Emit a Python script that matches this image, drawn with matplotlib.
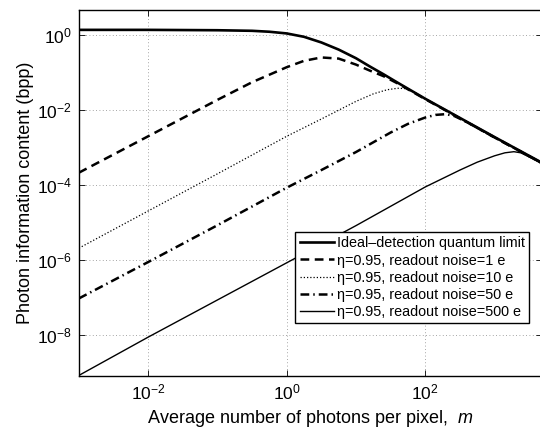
import matplotlib
matplotlib.use('Agg')
import matplotlib.pyplot as plt
import numpy as np

plt.rcParams['font.family'] = ['Liberation Sans', 'DejaVu Sans']
plt.rcParams['mathtext.fontset'] = 'custom'
plt.rcParams['mathtext.rm'] = 'Liberation Sans'
plt.rcParams['mathtext.it'] = 'Liberation Sans:italic'

# values, as log10(m) and log10(bpp)
ideal_lm = [-3.0, -2.0, -1.0, -0.5, -0.25, 0.0, 0.25, 0.5, 0.75, 1.0, 1.2, 1.4, 1.6, 2.0, 2.5, 3.0, 3.68]
ideal_ly = [0.135, 0.135, 0.125, 0.11, 0.085, 0.04, -0.05, -0.20, -0.39, -0.62, -0.84, -1.05, -1.27, -1.70, -2.21, -2.72, -3.40]

n1_lm = [-3.0, -2.0, -1.0, -0.5, 0.0, 0.25, 0.5, 0.75, 1.0, 1.2, 1.4, 1.6, 2.0, 2.5, 3.0, 3.68]
n1_ly = [-3.67, -2.70, -1.73, -1.26, -0.86, -0.69, -0.60, -0.63, -0.79, -0.95, -1.10, -1.29, -1.71, -2.22, -2.73, -3.41]

n10_lm = [-3.0, -2.0, -1.0, 0.0, 0.5, 1.0, 1.25, 1.45, 1.6, 1.72, 1.85, 2.0, 2.5, 3.0, 3.68]
n10_ly = [-5.68, -4.69, -3.70, -2.70, -2.24, -1.77, -1.57, -1.46, -1.42, -1.43, -1.53, -1.71, -2.22, -2.73, -3.41]

n50_lm = [-3.0, -2.0, -1.0, 0.0, 0.5, 1.0, 1.5, 1.75, 2.0, 2.15, 2.3, 2.42, 2.6, 3.0, 3.68]
n50_ly = [-7.02, -6.05, -5.07, -4.07, -3.60, -3.12, -2.60, -2.37, -2.20, -2.13, -2.11, -2.16, -2.32, -2.73, -3.41]

n500_lm = [-3.0, -2.0, -1.0, 0.0, 1.0, 2.0, 2.5, 2.75, 3.0, 3.15, 3.28, 3.38, 3.5, 3.68]
n500_ly = [-9.07, -8.05, -7.06, -6.07, -5.08, -4.05, -3.60, -3.39, -3.22, -3.14, -3.11, -3.14, -3.25, -3.42]

labels = ['Ideal\u2013detection quantum limit',
          '\u03b7=0.95, readout noise=1 e',
          '\u03b7=0.95, readout noise=10 e',
          '\u03b7=0.95, readout noise=50 e',
          '\u03b7=0.95, readout noise=500 e']

fig = plt.figure(figsize=(5.4, 4.3), dpi=100)
ax = fig.add_axes([0.146, 0.126, 0.857, 0.851])

def p(lm, ly):
    return 10.0**np.array(lm), 10.0**np.array(ly)

x, y = p(ideal_lm, ideal_ly)
ax.plot(x, y, color='black', lw=1.9, ls='-', label=labels[0])
x, y = p(n1_lm, n1_ly)
ax.plot(x, y, color='black', lw=1.8, ls=(0, (3.5, 2.2)), label=labels[1])
x, y = p(n10_lm, n10_ly)
ax.plot(x, y, color='black', lw=0.9, ls=(0, (1, 1.6)), label=labels[2])
x, y = p(n50_lm, n50_ly)
ax.plot(x, y, color='black', lw=1.8, ls=(0, (3.5, 1.6, 0.6, 1.6)), label=labels[3])
x, y = p(n500_lm, n500_ly)
ax.plot(x, y, color='black', lw=1.0, ls='-', label=labels[4])

ax.set_xscale('log')
ax.set_yscale('log')
ax.set_xlim(10**-3, 10**3.68)
ax.set_ylim(10**-9.08, 10**0.667)
ax.set_xticks([1e-2, 1e0, 1e2])
ax.set_yticks([1e-8, 1e-6, 1e-4, 1e-2, 1e0])
ax.minorticks_off()
ax.tick_params(direction='in', top=True, right=True, length=4, width=0.6,
               labelsize=12.5, pad=5)
ax.grid(True, which='major', ls=(0, (1, 3)), color='#888888', lw=0.6)
for s in ax.spines.values():
    s.set_linewidth(1.0)

ax.set_xlabel('Average number of photons per pixel,  $m$', fontsize=13, labelpad=4)
ax.set_ylabel('Photon information content (bpp)', fontsize=13, labelpad=2)

leg = ax.legend(loc='upper left', bbox_to_anchor=(0.4675, 0.393), borderaxespad=0,
                fontsize=10.4, fancybox=False, framealpha=1, edgecolor='black',
                handlelength=2.4, handletextpad=0.2, labelspacing=0.22,
                borderpad=0.3)
leg.get_frame().set_linewidth(1.0)

fig.savefig('out.png', dpi=100)
